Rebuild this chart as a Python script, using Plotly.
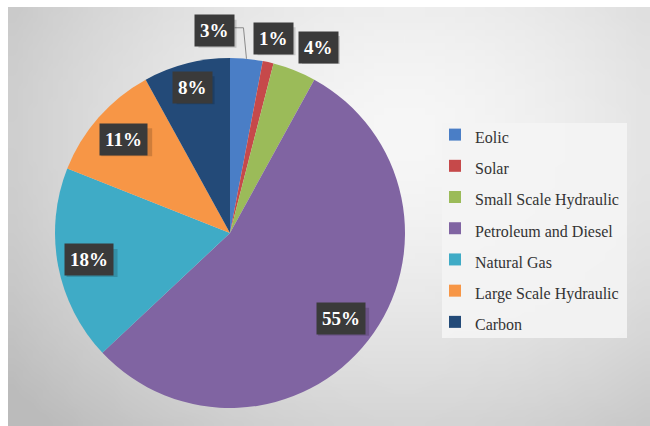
import math, zlib, struct, base64
import plotly.graph_objects as go

categories = ["Eolic", "Solar", "Small Scale Hydraulic", "Petroleum and Diesel",
              "Natural Gas", "Large Scale Hydraulic", "Carbon"]
values = [3, 1, 4, 55, 18, 11, 8]
colors = ["#4a7ec6", "#c6494a", "#9bbb59", "#8064a2", "#3fabc6", "#f79646", "#234a78"]

W, H = 650, 426
CX, CY = 230, 233          # pie centre in px (from top)
R = 175                    # pie radius px

def X(px):
    return px / W

def Y(py):
    return 1 - py / H

# --- gradient background image ---
def make_png(w, h, fn):
    raw = b""
    for j in range(h):
        raw += b"\x00" + bytes([fn(i / (w - 1), j / (h - 1)) for i in range(w)])
    def chunk(t, d):
        c = struct.pack(">I", len(d)) + t + d
        return c + struct.pack(">I", zlib.crc32(t + d) & 0xffffffff)
    ihdr = struct.pack(">IIBBBBB", w, h, 8, 0, 0, 0, 0)
    return (b"\x89PNG\r\n\x1a\n" + chunk(b"IHDR", ihdr) +
            chunk(b"IDAT", zlib.compress(raw)) + chunk(b"IEND", b""))

def shade(u, v):
    d = math.hypot((u - 0.62) * 1.0, (v - 0.3) * 0.8)
    val = 247 - 60 * min(d / 0.8, 1.0) ** 1.6
    return int(max(0, min(255, val)))

bg_uri = "data:image/png;base64," + base64.b64encode(make_png(64, 64, shade)).decode()

fig = go.Figure()
fig.add_trace(go.Pie(
    labels=[f'<span style="font-size:16px">{c}</span>' for c in categories],
    values=values,
    marker=dict(colors=colors, line=dict(width=0)),
    sort=False, direction="clockwise", rotation=0,
    textinfo="none", hoverinfo="label+percent",
    domain=dict(x=[X(CX - R), X(CX + R)], y=[Y(CY + R), Y(CY - R)]),
))

# label positions computed from the data angles
total = sum(values)
cum = 0
ks = [1.0, 1.14, 1.18, 0.80, 0.82, 0.81, 0.86]
nudge = [(-32, -28), (0, 0), (12, 6), (0, 0), (0, 0), (0, 0), (0, 0)]
anns = []
shapes = []
shadows = []
for i, v in enumerate(values):
    mid = (cum + v / 2) / total * 2 * math.pi
    cum += v
    pct = f"{round(v / total * 100)}%"
    px = CX + R * ks[i] * math.sin(mid)
    py = CY - R * ks[i] * math.cos(mid)
    lx, ly = px + nudge[i][0], py + nudge[i][1]
    if i == 0:
        # elbow leader line from label to slice edge
        shapes.append(dict(type="path", xref="paper", yref="paper",
                           path=f"M {X(lx + 20)},{Y(ly - 3)} L {X(px - 3)},{Y(ly - 3)} L {X(px)},{Y(py)}",
                           line=dict(color="#8a8a8a", width=1)))
    bw = 13 * len(pct) + 12
    bh = 28
    shadows.append(dict(type="rect", xref="paper", yref="paper",
                        x0=X(lx - bw / 2 + 3), x1=X(lx + bw / 2 + 3),
                        y0=Y(ly + bh / 2 + 3), y1=Y(ly - bh / 2 + 3),
                        fillcolor="rgba(0,0,0,0.16)", line=dict(width=0),
                        layer="above"))
    anns.append(dict(x=X(lx), y=Y(ly), xref="paper", yref="paper",
                     xanchor="center", yanchor="middle",
                     text=f"<b>{pct}</b>", showarrow=False,
                     bgcolor="#3a3a3a", borderpad=5,
                     font=dict(family="Liberation Serif", size=19, color="white")))

# legend background panel
shapes.insert(0, dict(type="rect", xref="paper", yref="paper",
                      x0=X(442), x1=X(627), y0=Y(338), y1=Y(123),
                      fillcolor="rgba(244,244,244,0.9)", line=dict(width=0),
                      layer="below"))

fig.update_layout(
    width=W, height=H, margin=dict(l=0, r=0, t=0, b=0),
    paper_bgcolor="white", plot_bgcolor="white",
    images=[dict(source=bg_uri, xref="paper", yref="paper",
                 x=X(8), y=Y(7), sizex=642 / W, sizey=419 / H,
                 sizing="stretch", layer="below")],
    shapes=shapes + shadows,
    annotations=anns,
    showlegend=True,
    legend=dict(x=X(435), y=Y(114), xanchor="left", yanchor="top",
                bgcolor="rgba(0,0,0,0)", borderwidth=0,
                font=dict(family="Liberation Serif", size=21.7, color="#333333"),
                itemclick=False),
)
fig.write_html("out.html", config={"displayModeBar": False},
               post_script="document.body.style.margin='0';")
